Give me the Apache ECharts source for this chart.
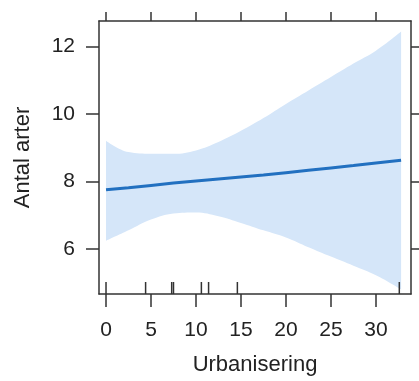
<!DOCTYPE html>
<html><head><meta charset="utf-8">
<script src="https://cdn.jsdelivr.net/npm/echarts@6/dist/echarts.min.js"></script>
<style>html,body{margin:0;padding:0;background:#fff}#c{width:419px;height:381px}</style>
</head><body><div id="c"></div>
<script>
var xPts = [0, 2.5, 5, 7.5, 10, 12.5, 15, 17.5, 20, 22.5, 25, 27.5, 30, 32.8];
var fitVals = [7.75, 7.81, 7.88, 7.95, 8.01, 8.07, 8.13, 8.19, 8.26, 8.33, 8.40, 8.47, 8.55, 8.63];
var upperVals = [9.21, 8.87, 8.82, 8.82, 8.92, 9.17, 9.50, 9.88, 10.30, 10.70, 11.10, 11.50, 11.88, 12.45];
var lowerVals = [6.24, 6.55, 6.87, 7.05, 7.08, 6.97, 6.77, 6.55, 6.34, 6.05, 5.77, 5.50, 5.22, 4.80];
var rugVals = [0, 4.4, 7.3, 7.5, 10.6, 11.4, 14.6, 32.6];
var xTicks = [0, 5, 10, 15, 20, 25, 30];
var yTicks = [6, 8, 10, 12];
var xMin = -0.78, xMax = 33.9, yMin = 4.66, yMax = 12.76;

var font = 'Liberation Sans, Arial, sans-serif';
var axisCol = '#333';
function pairs(a){ return xPts.map(function(x,i){return [x,a[i]];}); }

var chart = echarts.init(document.getElementById('c'), null, {renderer:'canvas'});
chart.setOption({
  animation:false,
  grid:{left:99,right:8,top:21,bottom:83,containLabel:false},
  xAxis:[{
    type:'value', min:xMin, max:xMax, position:'bottom', z:4,
    name:'Urbanisering', nameLocation:'middle', nameGap:60,
    nameTextStyle:{fontFamily:font,fontSize:22,color:'#222'},
    axisLine:{show:true,onZero:false,lineStyle:{color:axisCol,width:1.5}},
    axisTick:{show:true,inside:false,length:13,customValues:xTicks,lineStyle:{color:axisCol,width:1.5}},
    axisLabel:{show:true,margin:26,customValues:xTicks,fontFamily:font,fontSize:21,color:'#222'},
    splitLine:{show:false}
  },{
    type:'value', min:xMin, max:xMax, position:'top', z:4,
    axisLine:{show:true,onZero:false,lineStyle:{color:axisCol,width:1.5}},
    axisTick:{show:true,inside:false,length:9,customValues:xTicks,lineStyle:{color:axisCol,width:1.5}},
    axisLabel:{show:false}, splitLine:{show:false}
  }],
  yAxis:[{
    type:'value', min:yMin, max:yMax, position:'left', z:4,
    name:'Antal arter', nameLocation:'middle', nameGap:65, nameRotate:90,
    nameTextStyle:{fontFamily:font,fontSize:22,color:'#222'},
    axisLine:{show:true,onZero:false,lineStyle:{color:axisCol,width:1.5}},
    axisTick:{show:true,inside:false,length:13,customValues:yTicks,lineStyle:{color:axisCol,width:1.5}},
    axisLabel:{show:true,margin:24,customValues:yTicks,fontFamily:font,fontSize:21,color:'#222'},
    splitLine:{show:false}
  },{
    type:'value', min:yMin, max:yMax, position:'right', z:4,
    axisLine:{show:true,onZero:false,lineStyle:{color:axisCol,width:1.5}},
    axisTick:{show:true,inside:false,length:10,customValues:yTicks,lineStyle:{color:axisCol,width:1.5}},
    axisLabel:{show:false}, splitLine:{show:false}
  }],
  series:[
    {type:'line', data:pairs(upperVals), smooth:0.4, symbol:'none', z:1,
     lineStyle:{width:0,opacity:0}, areaStyle:{color:'#d5e6f9',opacity:1,origin:'start'}, silent:true},
    {type:'line', data:pairs(lowerVals), smooth:0.4, symbol:'none', z:1.5,
     lineStyle:{width:0,opacity:0}, areaStyle:{color:'#ffffff',opacity:1,origin:'start'}, silent:true},
    {type:'line', data:pairs(fitVals), smooth:false, symbol:'none', z:3,
     lineStyle:{color:'#2270c0',width:3}},
    {type:'custom', data:rugVals.map(function(v){return [v];}),
     renderItem:function(params, api){
       var p = api.coord([api.value(0), yMin]);
       return {type:'line', shape:{x1:p[0],y1:p[1],x2:p[0],y2:p[1]-12},
               style:{stroke:axisCol,lineWidth:1.5}};
     }, encode:{x:0}, z:5}
  ]
});
</script></body></html>
